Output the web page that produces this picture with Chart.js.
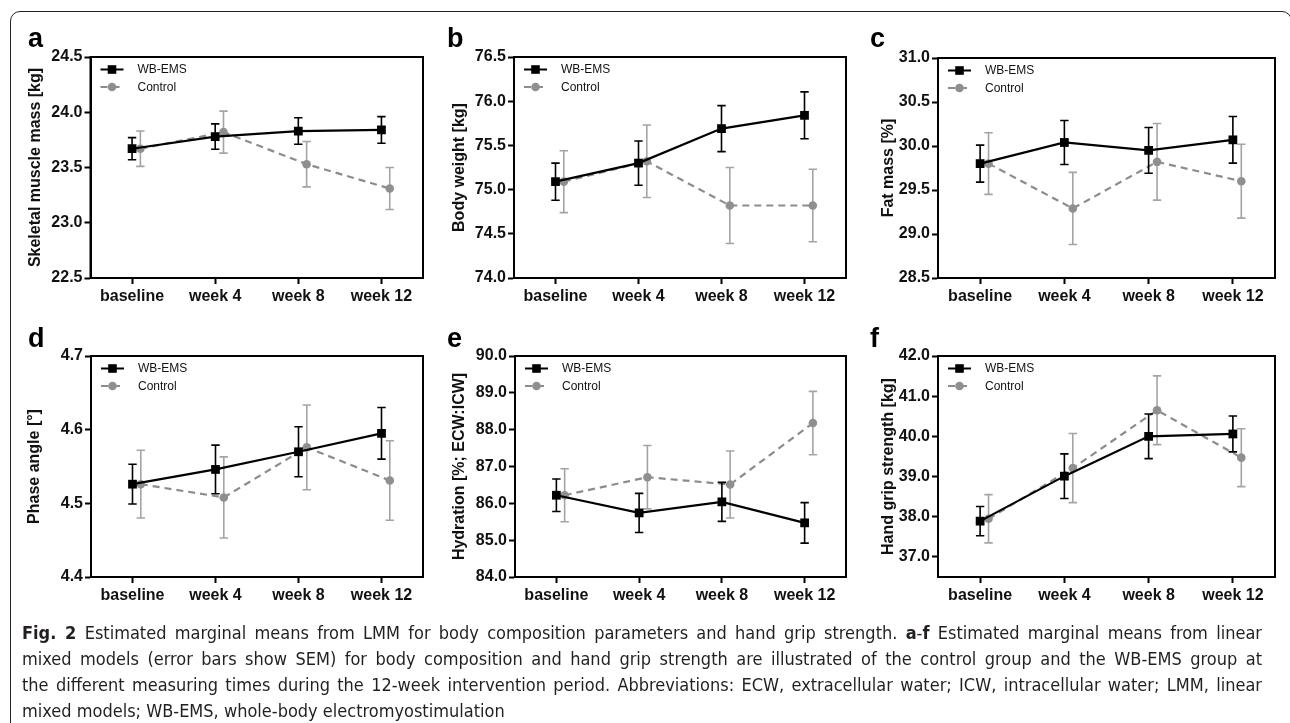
<!DOCTYPE html>
<html>
<head>
<meta charset="utf-8">
<script src="https://cdn.jsdelivr.net/npm/chart.js@4.4.1/dist/chart.umd.min.js"></script>
<style>
    body { margin: 0; background: #fff; width: 1290px; height: 723px; overflow: hidden; position: relative; font-family: "Liberation Sans", Arial, sans-serif; }
    .frame { position: absolute; left: 10px; top: 11px; width: 1280px; height: 800px; border: 1.5px solid #222; border-radius: 10px; }
    canvas { position: absolute; }
    .letter { position: absolute; font-weight: bold; font-size: 27px; line-height: 27px; color: #000; }
    .caption { position: absolute; left: 22px; top: 620px; width: 1240px; font-family: "Liberation Sans Narrow", "DejaVu Sans Condensed", sans-serif; font-size: 18px; line-height: 26px; color: #231f20; }
    .caption div { white-space: nowrap; }
    .caption .just { text-align: justify; text-align-last: justify; white-space: normal; }
</style>
</head>
<body>
<div class="frame"></div>
<div id="panels"></div>
<div class="caption">
    <div class="just"><b>Fig. 2</b> Estimated marginal means from LMM for body composition parameters and hand grip strength. <b>a</b>-<b>f</b> Estimated marginal means from linear</div>
    <div class="just">mixed models (error bars show SEM) for body composition and hand grip strength are illustrated of the control group and the WB-EMS group at</div>
    <div class="just">the different measuring times during the 12-week intervention period. Abbreviations: ECW, extracellular water; ICW, intracellular water; LMM, linear</div>
    <div>mixed models; WB-EMS, whole-body electromyostimulation</div>
</div>
<script>
// categories shared by all panels
const categories = ['baseline', 'week 4', 'week 8', 'week 12'];
const groupNames = ['WB-EMS', 'Control'];

// a - skeletal muscle mass
const skmWbems = [23.67, 23.78, 23.83, 23.84];
const skmWbemsSem = [0.10, 0.115, 0.12, 0.12];
const skmControl = [23.67, 23.82, 23.53, 23.31];
const skmControlSem = [0.16, 0.19, 0.205, 0.19];
const skmTicks = [22.5, 23.0, 23.5, 24.0, 24.5];

// b - body weight
const bwWbems = [75.09, 75.30, 75.69, 75.84];
const bwWbemsSem = [0.21, 0.25, 0.26, 0.265];
const bwControl = [75.09, 75.32, 74.82, 74.82];
const bwControlSem = [0.35, 0.41, 0.43, 0.41];
const bwTicks = [74.0, 74.5, 75.0, 75.5, 76.0, 76.5];

// c - fat mass
const fmWbems = [29.80, 30.04, 29.95, 30.07];
const fmWbemsSem = [0.21, 0.25, 0.26, 0.265];
const fmControl = [29.80, 29.29, 29.82, 29.60];
const fmControlSem = [0.35, 0.41, 0.435, 0.42];
const fmTicks = [28.5, 29.0, 29.5, 30.0, 30.5, 31.0];

// d - phase angle
const paWbems = [4.526, 4.546, 4.570, 4.595];
const paWbemsSem = [0.027, 0.033, 0.034, 0.035];
const paControl = [4.526, 4.508, 4.576, 4.531];
const paControlSem = [0.046, 0.055, 0.0575, 0.054];
const paTicks = [4.4, 4.5, 4.6, 4.7];

// e - hydration
const hyWbems = [86.22, 85.74, 86.04, 85.47];
const hyWbemsSem = [0.44, 0.53, 0.53, 0.55];
const hyControl = [86.22, 86.71, 86.51, 88.18];
const hyControlSem = [0.72, 0.86, 0.91, 0.86];
const hyTicks = [84.0, 85.0, 86.0, 87.0, 88.0, 89.0, 90.0];

// f - hand grip strength
const hgWbems = [37.89, 39.01, 40.00, 40.06];
const hgWbemsSem = [0.365, 0.555, 0.555, 0.445];
const hgControl = [37.95, 39.21, 40.65, 39.47];
const hgControlSem = [0.60, 0.86, 0.855, 0.72];
const hgTicks = [37.0, 38.0, 39.0, 40.0, 41.0, 42.0];

const panelDefs = [
    { letter: 'a', title: 'Skeletal muscle mass [kg]', wb: skmWbems, wbSem: skmWbemsSem, ct: skmControl, ctSem: skmControlSem, ticks: skmTicks, min: 22.5, max: 24.5 },
    { letter: 'b', title: 'Body weight [kg]', wb: bwWbems, wbSem: bwWbemsSem, ct: bwControl, ctSem: bwControlSem, ticks: bwTicks, min: 74.0, max: 76.5 },
    { letter: 'c', title: 'Fat mass [%]', wb: fmWbems, wbSem: fmWbemsSem, ct: fmControl, ctSem: fmControlSem, ticks: fmTicks, min: 28.5, max: 31.0 },
    { letter: 'd', title: 'Phase angle [°]', wb: paWbems, wbSem: paWbemsSem, ct: paControl, ctSem: paControlSem, ticks: paTicks, min: 4.4, max: 4.7 },
    { letter: 'e', title: 'Hydration [%; ECW:ICW]', wb: hyWbems, wbSem: hyWbemsSem, ct: hyControl, ctSem: hyControlSem, ticks: hyTicks, min: 84.0, max: 90.0 },
    { letter: 'f', title: 'Hand grip strength [kg]', wb: hgWbems, wbSem: hgWbemsSem, ct: hgControl, ctSem: hgControlSem, ticks: hgTicks, min: 36.5, max: 42.0 }
];

// page layout: plot box edges, y-title centre, letter position
const layouts = [
    { L: 90, T: 57, R: 423, B: 278, titleX: 35.5, lx: 28, ly: 25 },
    { L: 514, T: 57, R: 846, B: 278, titleX: 460, lx: 447, ly: 25 },
    { L: 938, T: 58, R: 1275, B: 278, titleX: 889, lx: 870, ly: 25 },
    { L: 91, T: 356, R: 423, B: 577, titleX: 35, lx: 28, ly: 325 },
    { L: 515, T: 356, R: 846, B: 577, titleX: 460, lx: 447, ly: 325 },
    { L: 938, T: 356, R: 1275, B: 577, titleX: 889, lx: 870, ly: 325 }
];

const CONTROL_NUDGE = 0.1;   // prism-style horizontal offset of the control group
const WB_COLOR = '#000000';
const CT_COLOR = '#8c8c8c';
const CT_ERR_COLOR = '#a4a4a4';
const FONT = '"Liberation Sans", Arial, sans-serif';

const errorBarPlugin = {
    id: 'errorBars',
    beforeDatasetDraw: function (chart, args) {
        const ds = chart.data.datasets[args.index];
        if (!ds.sem) return;
        const ctx = chart.ctx;
        const xs = chart.scales.x;
        const ys = chart.scales.y;
        ctx.save();
        ctx.strokeStyle = ds.errColor;
        ctx.lineWidth = 1.6;
        ds.data.forEach(function (p, i) {
            const x = xs.getPixelForValue(p.x);
            const yTop = ys.getPixelForValue(p.y + ds.sem[i]);
            const yBot = ys.getPixelForValue(p.y - ds.sem[i]);
            ctx.beginPath();
            ctx.moveTo(x, yTop); ctx.lineTo(x, yBot);
            ctx.moveTo(x - 4.2, yTop); ctx.lineTo(x + 4.2, yTop);
            ctx.moveTo(x - 4.2, yBot); ctx.lineTo(x + 4.2, yBot);
            ctx.stroke();
        });
        ctx.restore();
    }
};

const boxPlugin = {
    id: 'plotBox',
    afterDraw: function (chart) {
        const a = chart.chartArea;
        const ctx = chart.ctx;
        ctx.save();
        ctx.strokeStyle = '#000';
        ctx.lineWidth = 2;
        ctx.strokeRect(a.left, a.top, a.right - a.left, a.bottom - a.top);

        // legend in upper left corner
        chart.data.datasets.forEach(function (ds, i) {
            const y = a.top + 12.5 + i * 17.5;
            const x0 = a.left + 10;
            const x1 = a.left + 33;
            ctx.strokeStyle = ds.borderColor;
            ctx.lineWidth = 2;
            ctx.setLineDash(ds.borderDash || []);
            ctx.beginPath();
            ctx.moveTo(x0, y); ctx.lineTo(x1, y);
            ctx.stroke();
            ctx.setLineDash([]);
            ctx.fillStyle = ds.pointBackgroundColor;
            const cx = (x0 + x1) / 2;
            if (ds.pointStyle === 'rect') {
                ctx.fillRect(cx - 4.3, y - 4.3, 8.6, 8.6);
            } else {
                ctx.beginPath();
                ctx.arc(cx, y, 4.3, 0, Math.PI * 2);
                ctx.fill();
            }
            ctx.fillStyle = '#111';
            ctx.font = '12px ' + FONT;
            ctx.textBaseline = 'middle';
            ctx.fillText(ds.label, a.left + 47, y + 0.5);
        });
        ctx.restore();
    }
};

const holder = document.getElementById('panels');

panelDefs.forEach(function (def, k) {
    const lay = layouts[k];
    const cx = lay.titleX - 20;
    const cy = lay.T - 40;
    const W = lay.R + 8 - cx;
    const H = lay.B + 40 - cy;

    const canvas = document.createElement('canvas');
    canvas.width = W;
    canvas.height = H;
    canvas.style.left = cx + 'px';
    canvas.style.top = cy + 'px';
    canvas.style.width = W + 'px';
    canvas.style.height = H + 'px';
    holder.appendChild(canvas);

    const letter = document.createElement('div');
    letter.className = 'letter';
    letter.textContent = def.letter;
    letter.style.left = lay.lx + 'px';
    letter.style.top = lay.ly + 'px';
    holder.appendChild(letter);

    new Chart(canvas.getContext('2d'), {
        type: 'line',
        data: {
            datasets: [
                {
                    label: groupNames[0],
                    data: def.wb.map((v, i) => ({ x: i, y: v })),
                    sem: def.wbSem,
                    errColor: WB_COLOR,
                    borderColor: WB_COLOR,
                    borderWidth: 2.2,
                    pointStyle: 'rect',
                    pointRadius: 6.2,
                    pointBackgroundColor: WB_COLOR,
                    pointBorderWidth: 0,
                    tension: 0
                },
                {
                    label: groupNames[1],
                    data: def.ct.map((v, i) => ({ x: i + CONTROL_NUDGE, y: v })),
                    sem: def.ctSem,
                    errColor: CT_ERR_COLOR,
                    borderColor: CT_COLOR,
                    borderWidth: 2.2,
                    borderDash: [7, 5],
                    pointStyle: 'circle',
                    pointRadius: 4.3,
                    pointBackgroundColor: '#8f8f8f',
                    pointBorderWidth: 0,
                    tension: 0
                }
            ]
        },
        options: {
            responsive: false,
            animation: false,
            events: [],
            layout: { padding: { left: 0, top: 40, right: 8, bottom: 0 } },
            plugins: {
                legend: { display: false },
                tooltip: { enabled: false }
            },
            scales: {
                x: {
                    type: 'linear',
                    min: -0.5,
                    max: 3.5,
                    afterBuildTicks: function (axis) {
                        axis.ticks = categories.map((c, i) => ({ value: i }));
                    },
                    afterFit: function (axis) { axis.height = 40; },
                    border: { display: true, color: '#000', width: 2 },
                    grid: { drawOnChartArea: false, drawTicks: true, tickLength: 6, tickWidth: 2, tickColor: '#000' },
                    ticks: {
                        autoSkip: false,
                        maxRotation: 0,
                        padding: 3,
                        color: '#111',
                        font: { family: FONT, size: 16, weight: 'bold' },
                        callback: function (value) { return categories[value]; }
                    }
                },
                y: {
                    type: 'linear',
                    min: def.min,
                    max: def.max,
                    afterBuildTicks: function (axis) {
                        axis.ticks = def.ticks.map(v => ({ value: v }));
                    },
                    afterFit: function (axis) { axis.width = lay.L - cx; },
                    border: { display: true, color: '#000', width: 2 },
                    grid: { drawOnChartArea: false, drawTicks: true, tickLength: 6, tickWidth: 2, tickColor: '#000' },
                    ticks: {
                        padding: 2,
                        color: '#111',
                        font: { family: FONT, size: 16, weight: 'bold' },
                        callback: function (value) { return Number(value).toFixed(1); }
                    },
                    title: {
                        display: true,
                        text: def.title,
                        color: '#111',
                        padding: { top: 10.4, bottom: 0 },
                        font: { family: FONT, size: 16, weight: 'bold' }
                    }
                }
            }
        },
        plugins: [errorBarPlugin, boxPlugin]
    });
});
</script>
</body>
</html>
